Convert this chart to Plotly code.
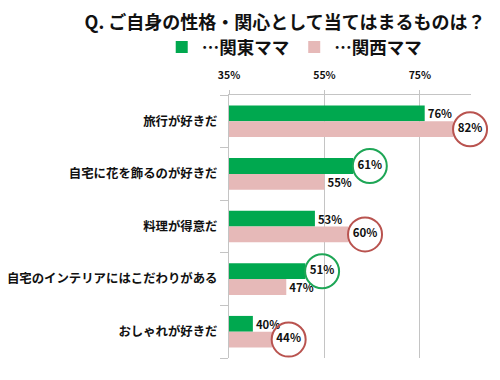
import plotly.graph_objects as go

categories = ["旅行が好きだ", "自宅に花を飾るのが好きだ", "料理が得意だ",
              "自宅のインテリアにはこだわりがある", "おしゃれが好きだ"]
kanto = [76, 61, 53, 51, 40]
kansai = [82, 55, 60, 47, 44]
kanto_circled = [False, True, False, True, False]
kansai_circled = [True, False, True, False, True]
series_names = ["…関東ママ", "…関西ママ"]
x_ticks = [35, 55, 75]
title_text = "Q. ご自身の性格・関心として当てはまるものは？"

FONT = "Noto Sans CJK JP"
GREEN = "#00a84f"
PINK = "#e6b9b8"
GREEN_RING = "#1ea656"
RED_RING = "#b9534f"
AXIS_MIN, AXIS_MAX = 35, 85.7
CIRCLE_DX = 3.5   # data-unit offset of ring centre beyond bar end
RING_D = 34       # ring diameter, px
HALF = 0.15       # half of a bar's slot (bargap 0.4, 2 bars)
LABEL_SIZE = 11.5

idx = list(range(len(categories)))

fig = go.Figure()
for name, vals, circ, color in [
    (series_names[0], kanto, kanto_circled, GREEN),
    (series_names[1], kansai, kansai_circled, PINK),
]:
    fig.add_trace(go.Bar(
        y=idx, x=[v - AXIS_MIN for v in vals], base=AXIS_MIN,
        orientation="h", name=name,
        marker=dict(color=color, line=dict(width=0)),
        text=["" if c else f"{v}%" for v, c in zip(vals, circ)],
        textposition="outside", cliponaxis=False,
        textfont=dict(family=FONT, size=LABEL_SIZE, color="#111", weight="bold"),
    ))

for vals, circ, ring, sign in [
    (kanto, kanto_circled, GREEN_RING, -1),
    (kansai, kansai_circled, RED_RING, 1),
]:
    xs = [v + CIRCLE_DX for v, c in zip(vals, circ) if c]
    ys = [i + sign * HALF for i, c in zip(idx, circ) if c]
    ts = [f"{v}%" for v, c in zip(vals, circ) if c]
    fig.add_trace(go.Scatter(
        x=xs, y=ys, mode="markers+text", text=ts, textposition="middle center",
        marker=dict(symbol="circle", size=RING_D, color="rgba(255,255,255,0)",
                    line=dict(color=ring, width=2)),
        textfont=dict(family=FONT, size=LABEL_SIZE, color="#111", weight="bold"),
        showlegend=False, cliponaxis=False, hoverinfo="skip",
    ))

fig.update_layout(
    width=500, height=380,
    margin=dict(l=229, r=29, t=95, b=22),
    paper_bgcolor="white", plot_bgcolor="white",
    barmode="group", bargap=0.4,
    font=dict(family=FONT, color="#111"),
    title=dict(text=title_text, x=0.57, xanchor="center", y=1 - 23 / 380,
               yanchor="middle",
               font=dict(family=FONT, size=18, color="#111", weight="bold")),
    legend=dict(orientation="h", x=-0.278, xanchor="left", y=1 + 48 / 263,
                yanchor="middle", itemwidth=30, tracegroupgap=0,
                font=dict(family=FONT, size=17.5, color="#111", weight="bold")),
    xaxis=dict(range=[AXIS_MIN, AXIS_MAX], side="top", tickvals=x_ticks,
               ticktext=[f"{t}%" for t in x_ticks],
               showgrid=True, gridcolor="#c4c4c4", gridwidth=1,
               showline=True, linecolor="#c4c4c4", ticks="outside",
               ticklen=4, tickcolor="#c4c4c4", zeroline=False,
               ticklabelstandoff=7, automargin=False,
               tickfont=dict(family=FONT, size=10.5, color="#111", weight="bold")),
    yaxis=dict(range=[4.5, -0.5], tickvals=idx, ticktext=categories,
               showline=True, linecolor="#c4c4c4", ticks="", showgrid=False,
               zeroline=False, ticklabelstandoff=8, automargin=False,
               minor=dict(tick0=-0.5, dtick=1, ticks="outside", ticklen=8,
                          tickcolor="#c4c4c4", showgrid=False),
               tickfont=dict(family=FONT, size=12.4, color="#111", weight="bold")),
)

fig.write_html("out.html", config={"displayModeBar": False},
               post_script="document.body.style.margin='0';")
